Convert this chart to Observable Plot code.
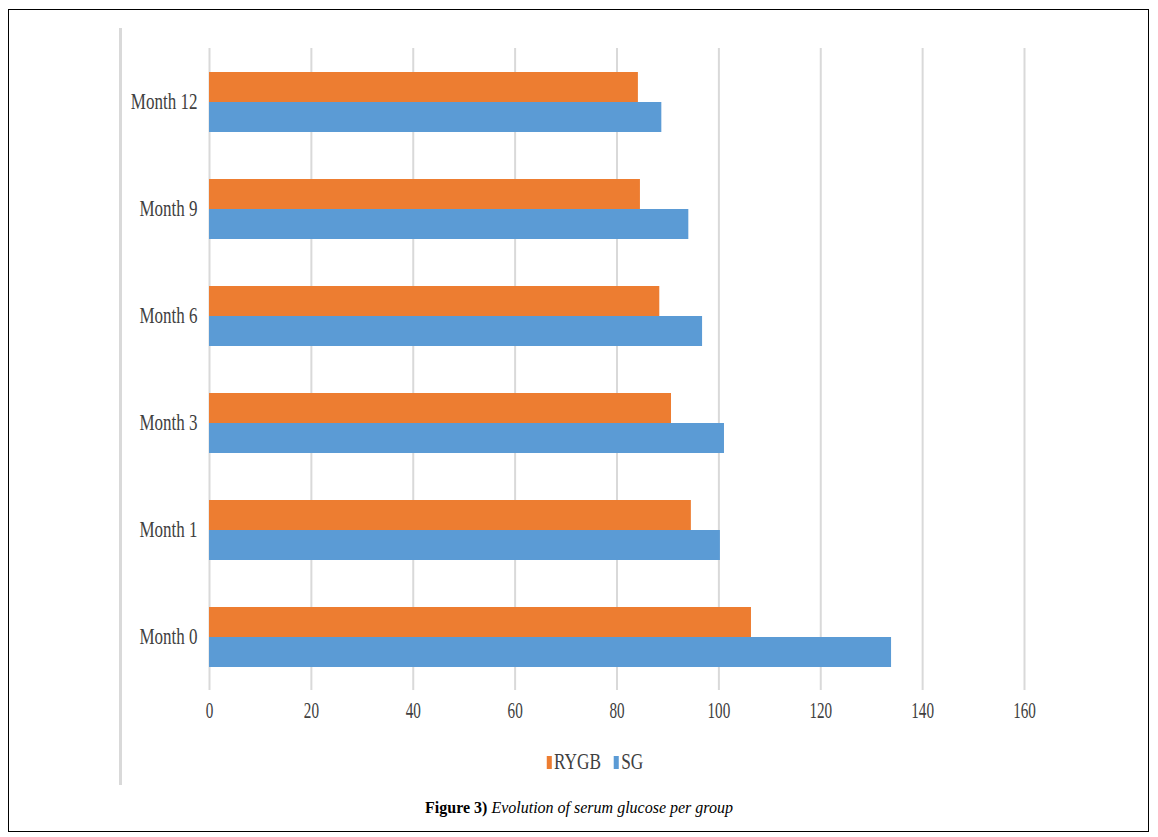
<!DOCTYPE html>
<html>
<head>
<meta charset="utf-8">
<script src="https://cdn.jsdelivr.net/npm/d3@7"></script>
<script src="https://cdn.jsdelivr.net/npm/@observablehq/plot@0.6"></script>
<style>
  html, body { margin: 0; padding: 0; background: #fff; }
  #wrap { position: relative; width: 1158px; height: 837px; overflow: hidden; }
  #frame { position: absolute; left: 8px; top: 9px; width: 1141px; height: 823px; border: 1px solid #000; box-sizing: border-box; }
  #vline { position: absolute; left: 119px; top: 28px; width: 3px; height: 757px; background: #d9d9d9; }
  #chart { position: absolute; left: 0; top: 0; }
  #legend { position: absolute; left: 16px; top: 748px; width: 1158px; text-align: center; font-family: "Liberation Serif", serif; font-size: 24px; color: #404040; transform: scaleX(0.72); transform-origin: 579px 0; white-space: nowrap; }
  #legend .sw { display: inline-block; width: 7px; height: 13px; margin-right: 3px; vertical-align: 0px; }
  #legend .item { margin: 0 9px; }
  #caption { position: absolute; left: 0; top: 799px; width: 1158px; text-align: center; font-family: "Liberation Serif", serif; font-size: 16px; color: #000; }
</style>
</head>
<body>
<div id="wrap">
  <div id="frame"></div>
  <div id="vline"></div>
  <div id="chart"></div>
  <div id="legend"></div>
  <div id="caption"><b>Figure 3)</b> <i>Evolution of serum glucose per group</i></div>
</div>
<script>
const months = ["Month 12", "Month 9", "Month 6", "Month 3", "Month 1", "Month 0"];
const rygb = [84.2, 84.6, 88.4, 90.7, 94.6, 106.4];
const sg = [88.8, 94.1, 96.8, 101.1, 100.3, 133.9];
const groups = ["RYGB", "SG"];
const groupColors = ["#ED7D31", "#5B9BD5"];
const xTicks = [0, 20, 40, 60, 80, 100, 120, 140, 160];

const rows = [];
months.forEach((m, i) => {
  rows.push({month: m, group: "RYGB", value: rygb[i]});
  rows.push({month: m, group: "SG", value: sg[i]});
});

const chart = Plot.plot({
  width: 1158,
  height: 730,
  marginLeft: 209,
  marginRight: 134,
  marginTop: 48,
  marginBottom: 40,
  style: {fontFamily: "'Liberation Serif', serif", fontSize: "23px", color: "#404040", background: "transparent"},
  x: {domain: [0, 160], ticks: xTicks, label: null, tickSize: 0, tickPadding: 11},
  fy: {domain: months, label: null, padding: 0, tickSize: 0, tickPadding: 12},
  y: {domain: groups, paddingInner: 0, paddingOuter: 0.78, axis: null},
  color: {domain: groups, range: groupColors},
  marks: [
    Plot.ruleX(xTicks, {stroke: "#d9d9d9", strokeWidth: 2}),
    Plot.barX(rows, {fy: "month", y: "group", x: "value", fill: "group"})
  ]
});
document.getElementById("chart").appendChild(chart);

// condense the tick labels horizontally, like the narrow serif of the original
chart.querySelectorAll("text").forEach(t => {
  const bb = t.getBBox();
  const anchor = t.getAttribute("text-anchor") || t.parentNode.getAttribute("text-anchor") || "middle";
  const isEnd = anchor === "end";
  const ax = isEnd ? bb.x + bb.width : bb.x + bb.width / 2;
  const s = isEnd ? 0.74 : 0.66;
  const prev = t.getAttribute("transform") || "";
  t.setAttribute("transform", `${prev} translate(${ax},0) scale(${s},1) translate(${-ax},0)`);
});

const legend = document.getElementById("legend");
groups.forEach((g, i) => {
  const span = document.createElement("span");
  span.className = "item";
  span.innerHTML = `<span class="sw" style="background:${groupColors[i]}"></span>${g}`;
  legend.appendChild(span);
});
</script>
</body>
</html>
